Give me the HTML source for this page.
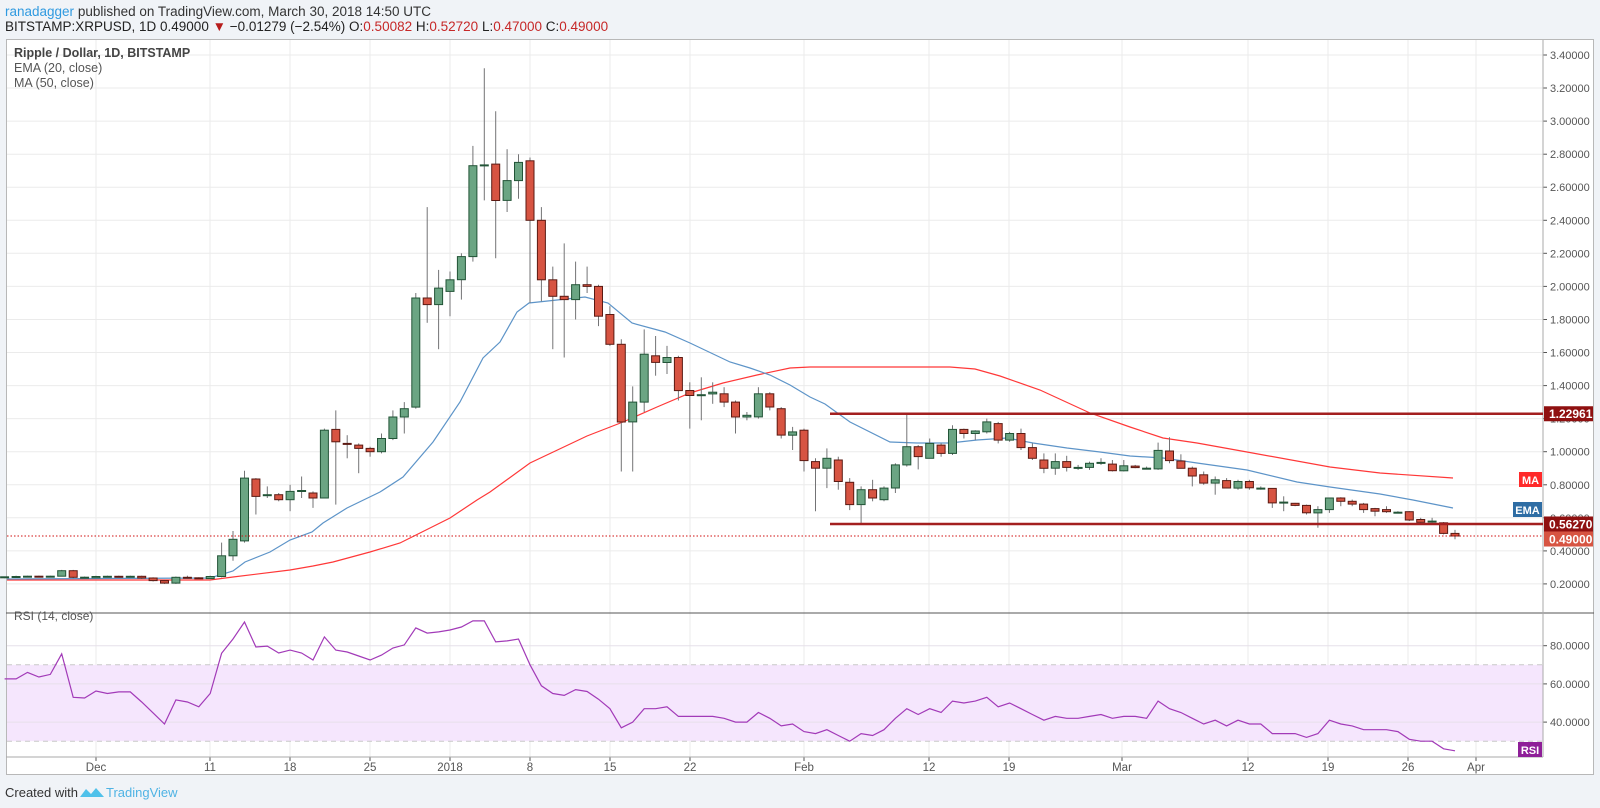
<!DOCTYPE html>
<html><head><meta charset="utf-8">
<style>
html,body{margin:0;padding:0;background:#f0f3f7;width:1600px;height:808px;overflow:hidden;font-family:"Liberation Sans",sans-serif}
</style></head>
<body>
<svg id="s" width="1600" height="808" xmlns="http://www.w3.org/2000/svg" style="position:absolute;left:0;top:0;font-family:'Liberation Sans',sans-serif">
<text x="5" y="16" font-size="13.5" fill="#333"><tspan fill="#2f9ae0">ranadagger</tspan> published on TradingView.com, March 30, 2018 14:50 UTC</text>
<text x="5" y="31" font-size="13.5" fill="#222">BITSTAMP:XRPUSD, 1D  0.49000 <tspan fill="#b71c1c">▼</tspan> −0.01279 (−2.54%) O:<tspan fill="#c62828">0.50082</tspan> H:<tspan fill="#c62828">0.52720</tspan> L:<tspan fill="#c62828">0.47000</tspan> C:<tspan fill="#c62828">0.49000</tspan></text>
<rect x="6.5" y="39.5" width="1587" height="735" fill="#fff" stroke="#b8b8b8"/>
<g id="g"></g>
<text x="5" y="797" font-size="13" fill="#333">Created with</text>
<path d="M80 797 l6 -8 l5 5 l5 -6 l8 9 z" fill="#4fc1ea"/>
<text x="106" y="797" font-size="13" fill="#4fb3e4">TradingView</text>
</svg>
<script>
const g=document.getElementById('g');let h='';
const P=p=>617-165.3*p, X=d=>96+11.42*d, R=r=>798.5-1.91*r;
for(let p=0.2;p<3.41;p+=0.2){const y=P(p).toFixed(1);h+=`<line x1="7" x2="1543" y1="${y}" y2="${y}" stroke="#ebebeb"/>`;
h+=`<line x1="1543" x2="1547" y1="${y}" y2="${y}" stroke="#555"/><text x="1550" y="${(+y+4).toFixed(1)}" font-size="11" fill="#555">${p.toFixed(5)}</text>`;}
const T=[[96,'Dec'],[210,'11'],[290,'18'],[370,'25'],[450,'2018'],[530,'8'],[610,'15'],[690,'22'],[804,'Feb'],[929,'12'],[1009,'19'],[1122,'Mar'],[1248,'12'],[1328,'19'],[1408,'26'],[1476,'Apr']];
T.forEach(([x,l])=>{h+=`<line x1="${x}" x2="${x}" y1="40" y2="757" stroke="#ebebeb"/><line x1="${x}" x2="${x}" y1="757" y2="761" stroke="#555"/><text x="${x}" y="771" font-size="11.5" fill="#555" text-anchor="middle">${l}</text>`;});
h+=`<rect x="7" y="${R(70)}" width="1536" height="${R(30)-R(70)}" fill="#f5e6fd"/>`;
[80,60,40].forEach(r=>{h+=`<line x1="7" x2="1543" y1="${R(r)}" y2="${R(r)}" stroke="#e6e0ea"/><line x1="1543" x2="1547" y1="${R(r)}" y2="${R(r)}" stroke="#555"/><text x="1550" y="${R(r)+4}" font-size="11" fill="#555">${r}.0000</text>`;});
[70,30].forEach(r=>{h+=`<line x1="7" x2="1543" y1="${R(r)}" y2="${R(r)}" stroke="#c8c8c8" stroke-dasharray="5,4"/>`;});
h+=`<line x1="6" x2="1594" y1="613" y2="613" stroke="#555"/><line x1="1543" x2="1543" y1="40" y2="757" stroke="#aaa"/><line x1="6" x2="1543" y1="757" y2="757" stroke="#aaa"/>`;
h+=`<text x="14" y="620" font-size="12" fill="#555">RSI (14, close)</text>`;
const rsi=[62.6,62.6,66,63.6,65,75.7,53,52.6,56.3,55,55.8,55.8,50.5,44.8,39,51.6,50.5,48,55,76,83.5,92.4,79.3,79.8,76.2,77.7,76.2,72.5,84.6,77.7,76.7,74.6,72.5,75.1,78.8,80.4,89.3,86.6,87.2,88.2,89.8,93,93,82,82.5,83.5,70,59,55,54,57,56,52,47,37,40,47,47,48,43,43,43,43,42,40,40,45,42,38,39,35,34,36,33,30,34,33,36,42,47,44,47,45,51,50,51,53,48,50,47,44,41,43,42,42,43,44,42,43,43,42,51,47,45,42,39,41,38,41,39,39,34,34,34,32,34,41,39,38,36,36,36,35,31,30,30,26,25];
h+=`<polyline fill="none" stroke="#a23ab8" stroke-width="1.2" points="${rsi.map((r,i)=>X(i-8).toFixed(1)+','+R(r).toFixed(1)).join(' ')}"/>`;
const ma=[[7,580],[210,580],[233,577],[290,570],[313,566],[333,562],[370,552],[400,543],[420,533],[450,518],[477,500],[490,492],[530,463],[587,436],[623,422],[657,407],[690,393],[723,383],[757,375],[790,368],[810,367],[950,367],[975,369],[1000,376],[1040,390],[1090,413],[1130,427],[1163,438],[1197,443],[1247,452],[1330,467],[1380,473],[1453,478]];
const ema=[[7,579],[210,578],[233,571],[245,562],[270,552],[290,540],[312,532],[323,523],[347,508],[380,492],[403,477],[433,442],[460,402],[483,358],[500,342],[517,312],[529,303],[557,300],[585,297],[608,303],[632,323],[665,332],[690,343],[730,362],[750,368],[770,375],[790,385],[810,397],[825,404],[850,422],[890,442],[917,443],[950,443],[977,440],[1007,438],[1033,443],[1067,448],[1100,452],[1130,456],[1163,458],[1197,463],[1247,470],[1297,482],[1330,487],[1380,494],[1413,500],[1453,508]];
h+=`<polyline fill="none" stroke="#ff3838" stroke-width="1.2" points="${ma.join(' ')}"/>`;
h+=`<polyline fill="none" stroke="#5d94c8" stroke-width="1.2" points="${ema.join(' ')}"/>`;
const C=[[.24,.245,.235,.243],[.243,.25,.24,.245],[.245,.25,.24,.247],[.247,.25,.24,.245],[.245,.25,.24,.247],[.247,.285,.245,.28],[.28,.285,.235,.24],[.24,.245,.235,.241],[.237,.25,.235,.245],[.245,.25,.24,.246],[.246,.25,.24,.245],[.245,.25,.24,.246],[.246,.25,.23,.236],[.236,.24,.215,.22],[.22,.225,.2,.205],[.205,.245,.2,.24],[.24,.25,.235,.237],[.237,.24,.23,.232],[.232,.25,.23,.245],
[.245,.45,.24,.37],[.37,.52,.34,.47],[.46,.885,.45,.84],[.835,.84,.62,.73],[.74,.79,.72,.74],[.74,.75,.70,.71],[.71,.80,.64,.76],[.76,.85,.72,.765],[.75,.76,.66,.72],[.72,1.14,.72,1.13],[1.135,1.25,.68,1.06],[1.05,1.1,.96,1.045],[1.04,1.05,.87,1.02],[1.02,1.03,.97,1.0],[1.0,1.11,.99,1.08],[1.08,1.25,1.07,1.21],[1.21,1.30,1.11,1.26],[1.27,1.96,1.26,1.93],[1.93,2.48,1.78,1.89],[1.89,2.10,1.62,1.99],[1.97,2.09,1.82,2.04],[2.04,2.2,1.92,2.18],[2.18,2.85,2.15,2.73],[2.73,3.32,2.52,2.735],[2.74,3.06,2.17,2.52],
[2.52,2.83,2.45,2.64],[2.64,2.80,2.53,2.75],[2.76,2.78,1.90,2.40],[2.40,2.48,1.91,2.04],[2.04,2.12,1.62,1.94],[1.94,2.26,1.57,1.92],[1.92,2.15,1.80,2.01],[2.01,2.12,1.96,2.0],[2.0,2.01,1.76,1.82],[1.83,1.88,1.64,1.65],[1.65,1.68,.88,1.18],[1.18,1.395,.88,1.30],[1.30,1.74,1.24,1.59],[1.58,1.70,1.46,1.54],[1.54,1.64,1.47,1.57],[1.57,1.58,1.31,1.37],[1.37,1.42,1.14,1.34],[1.34,1.45,1.19,1.345],[1.35,1.42,1.29,1.36],[1.35,1.39,1.27,1.30],[1.30,1.31,1.11,1.21],[1.21,1.24,1.19,1.22],[1.21,1.39,1.20,1.35],[1.35,1.36,1.25,1.27],[1.26,1.27,1.08,1.10],[1.10,1.15,1.01,1.12],
[1.13,1.14,.88,.946],[.94,.96,.64,.90],[.90,1.02,.78,.96],[.95,.97,.77,.82],[.815,.84,.647,.68],[.68,.79,.567,.77],[.77,.83,.70,.72],[.71,.79,.70,.78],[.78,.93,.75,.92],[.92,1.23,.91,1.03],[1.03,1.04,.893,.97],[.96,1.08,.96,1.05],[1.04,1.05,.97,.99],[.99,1.16,.98,1.135],[1.135,1.14,1.08,1.11],[1.11,1.13,1.07,1.125],[1.12,1.20,1.11,1.18],[1.17,1.18,1.05,1.07],[1.07,1.12,1.06,1.11],[1.11,1.14,1.01,1.025],[1.025,1.05,.95,.96],[.95,.99,.87,.90],[.90,.99,.86,.94],[.94,.975,.88,.905],[.905,.92,.89,.905],[.905,.94,.89,.93],[.935,.96,.92,.935],[.925,.95,.88,.885],
[.885,.95,.88,.915],[.913,.92,.90,.904],[.90,.91,.895,.90],[.896,1.055,.89,1.008],[1.004,1.087,.93,.946],[.944,.984,.90,.90],[.90,.91,.79,.853],[.86,.88,.80,.81],[.81,.85,.74,.83],[.825,.84,.78,.78],[.78,.83,.77,.82],[.82,.83,.77,.782],[.78,.79,.77,.78],[.778,.78,.66,.69],[.695,.73,.64,.695],[.688,.69,.67,.675],[.675,.68,.62,.63],[.63,.67,.54,.65],[.65,.72,.63,.72],[.72,.725,.67,.70],[.70,.71,.67,.683],[.683,.69,.63,.65],[.656,.66,.61,.64],[.65,.67,.63,.637],[.634,.64,.63,.634],[.637,.64,.58,.587],[.59,.60,.57,.573],[.58,.60,.57,.58],[.57,.575,.50,.506],[.506,.527,.47,.49]];
C.forEach((c,i)=>{const x=X(i-8),[o,hh,l,cl]=c,up=cl>=o;
h+=`<line x1="${x.toFixed(1)}" x2="${x.toFixed(1)}" y1="${P(hh).toFixed(1)}" y2="${P(l).toFixed(1)}" stroke="#737375"/>`;
const t=P(Math.max(o,cl)),b=P(Math.min(o,cl));
h+=`<rect x="${(x-4).toFixed(1)}" y="${t.toFixed(1)}" width="8" height="${Math.max(1,b-t).toFixed(1)}" fill="${up?'#6ba583':'#d75442'}" stroke="${up?'#225437':'#5b1a13'}" stroke-width="1"/>`;});
h+=`<line x1="830" x2="1543" y1="${P(1.22961)}" y2="${P(1.22961)}" stroke="#a31f1f" stroke-width="2.5"/>`;
h+=`<line x1="830" x2="1543" y1="${P(0.5627)}" y2="${P(0.5627)}" stroke="#a31f1f" stroke-width="2.5"/>`;
h+=`<line x1="7" x2="1543" y1="${P(0.49)}" y2="${P(0.49)}" stroke="#d01010" stroke-dasharray="1.5,2"/>`;
const lab=(y,t,bg,x0)=>{h+=`<rect x="${x0}" y="${y-7.5}" width="${1597-x0-4}" height="15" fill="${bg}"/><text x="${x0+5}" y="${y+4.5}" font-size="12" font-weight="bold" fill="#fff">${t}</text>`;};
lab(P(1.22961),'1.22961','#8f1010',1544);lab(P(0.5627),'0.56270','#8f1010',1544);lab(P(0.49)+3,'0.49000','#d75442',1544);
h+=`<rect x="1519" y="472" width="23" height="15" fill="#ff2a2a"/><text x="1530.5" y="484" font-size="11" font-weight="bold" fill="#fff" text-anchor="middle">MA</text>`;
h+=`<rect x="1513" y="502" width="29" height="15" fill="#2e6da4"/><text x="1527.5" y="514" font-size="11" font-weight="bold" fill="#fff" text-anchor="middle">EMA</text>`;
h+=`<rect x="1518" y="742" width="24" height="15" fill="#8e1f98"/><text x="1530" y="754" font-size="11" font-weight="bold" fill="#fff" text-anchor="middle">RSI</text>`;
h+=`<text x="14" y="57" font-size="12.5" font-weight="bold" fill="#444">Ripple / Dollar, 1D, BITSTAMP</text><text x="14" y="72" font-size="12.5" fill="#555">EMA (20, close)</text><text x="14" y="87" font-size="12.5" fill="#555">MA (50, close)</text>`;
g.innerHTML=h;
</script>
</body></html>
